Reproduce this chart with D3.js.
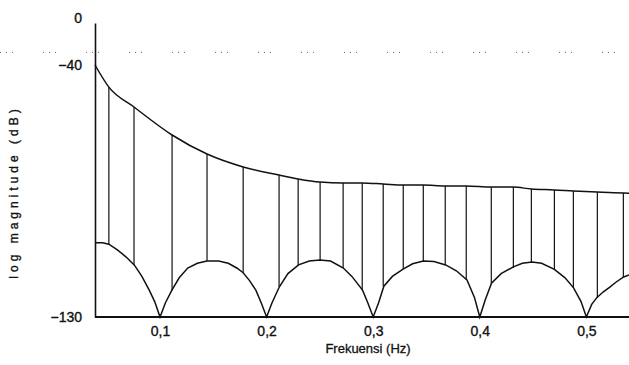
<!DOCTYPE html>
<html>
<head>
<meta charset="utf-8">
<script src="https://cdn.jsdelivr.net/npm/d3@7"></script>
<style>
  body { margin: 0; background: #fff; }
  svg { display: block; font-family: "Liberation Sans", Arial, sans-serif; }
</style>
</head>
<body>
<div class="chart"></div>
<script>
// x ticks (Hz) and their labels, comma as decimal separator
const xTicks = [0.1, 0.2, 0.3, 0.4, 0.5];
const xTickLabels = ['0,1', '0,2', '0,3', '0,4', '0,5'];
const yTicks = [0, -40, -130];
const yTickLabels = ['0', '\u221240', '\u2212130'];

// stem positions (Hz), top on the upper envelope, bottom on the lower curve (dB)
const stemFreq = [0.052, 0.0756, 0.1113, 0.1441, 0.178, 0.2117, 0.2296, 0.2502, 0.2718,
  0.2897, 0.3094, 0.3282, 0.347, 0.3676, 0.3873, 0.4108, 0.4315, 0.4484, 0.47, 0.4878,
  0.5103, 0.5347];
const stemTop = [-47.9, -55, -65, -71.8, -76.4, -79.3, -80.7, -81.8, -82.1,
  -82.1, -82.5, -82.9, -82.9, -83.2, -83.2, -83.6, -83.6, -84.3, -84.6, -85,
  -85.4, -85.7];
const stemBottom = [-104, -111.4, -120.5, -110, -114.2, -119.2, -111.4, -109.6, -112.5,
  -120.4, -119, -112.9, -110, -111.4, -116.8, -117.9, -112.5, -110.4, -113.2, -119.6,
  -123.2, -115.7];

// upper envelope end points
const upperStart = [0.039, -40];
const upperEnd = [0.54, -85.8];

// lower curve
const lowerFreq = [
  0.039, 0.046, 0.052, 0.06, 0.068, 0.076, 0.083, 0.09, 0.095, 0.1,
  0.105, 0.111, 0.118, 0.126, 0.135, 0.144, 0.155, 0.164, 0.172, 0.178, 0.184, 0.19, 0.195, 0.2,
  0.205, 0.212, 0.22, 0.23, 0.24, 0.25, 0.26, 0.272, 0.28, 0.29, 0.295, 0.3,
  0.305, 0.31, 0.318, 0.328, 0.337, 0.347, 0.357, 0.368, 0.378, 0.388, 0.395, 0.4,
  0.405, 0.411, 0.42, 0.432, 0.44, 0.449, 0.458, 0.47, 0.48, 0.488, 0.495, 0.5,
  0.505, 0.51, 0.516, 0.522, 0.528, 0.535, 0.54
];
const lowerDb = [
  -103.5, -103.5, -104, -106, -108.5, -111.5, -115.5, -120.5, -124.5, -130,
  -125, -120.5, -116, -112.5, -110.8, -110, -110, -110.8, -112.5, -114.2, -117, -120.5, -125, -130,
  -125, -119.2, -114.5, -111.4, -110, -109.6, -110, -112.5, -115.5, -120.4, -125, -130,
  -125, -119, -115.5, -112.9, -111, -110, -110.2, -111.4, -113.5, -116.8, -123, -130,
  -124, -117.9, -114.5, -112, -110.8, -110.4, -110.8, -113, -116, -119.6, -124.5, -130,
  -125.5, -123, -121, -119.3, -117.5, -115.7, -115
];

const refLevel = -28; // sparse dotted line near the top

const width = 629, height = 365;
const svg = d3.select('.chart').append('svg')
  .attr('width', width).attr('height', height);

const x = d3.scaleLinear().domain([0.039, 0.54]).range([95, 629]);
// broken axis: 0 dB squeezed into the top
const y = d3.scaleLinear().domain([-130, -40, 0]).range([317, 65, 23]);

// dotted reference line
svg.append('line')
  .attr('x1', 0).attr('x2', width)
  .attr('y1', y(refLevel)).attr('y2', y(refLevel))
  .attr('stroke', '#666').attr('stroke-width', 1)
  .attr('stroke-dasharray', '1 5 1 5 1 30');

// stems
svg.append('g').selectAll('line')
  .data(stemFreq)
  .join('line')
  .attr('x1', d => x(d)).attr('x2', d => x(d))
  .attr('y1', (d, i) => y(stemBottom[i]))
  .attr('y2', (d, i) => y(stemTop[i]))
  .attr('stroke', '#111').attr('stroke-width', 1.2);

// upper envelope
const upperPts = [upperStart].concat(stemFreq.map((f, i) => [f, stemTop[i]]), [upperEnd]);
svg.append('path')
  .datum(upperPts)
  .attr('fill', 'none').attr('stroke', '#111').attr('stroke-width', 1.5)
  .attr('d', d3.line().x(d => x(d[0])).y(d => y(d[1])).curve(d3.curveMonotoneX));

// lower curve
svg.append('path')
  .datum(lowerFreq.map((f, i) => [f, lowerDb[i]]))
  .attr('fill', 'none').attr('stroke', '#111').attr('stroke-width', 1.5)
  .attr('d', d3.line().x(d => x(d[0])).y(d => y(d[1])));

// axes
const xAxis = svg.append('g')
  .attr('transform', 'translate(0,' + y(-130) + ')')
  .call(d3.axisBottom(x).tickValues(xTicks).tickSize(0).tickPadding(9)
    .tickFormat((d, i) => xTickLabels[i]));
xAxis.select('.domain').attr('stroke', '#111').attr('stroke-width', 2).attr('d', 'M95,0H629');

const yAxis = svg.append('g')
  .attr('transform', 'translate(' + x(0.039) + ',0)')
  .call(d3.axisLeft(y).tickValues(yTicks).tickSize(0).tickPadding(13)
    .tickFormat((d, i) => yTickLabels[i]));
yAxis.select('.domain').attr('stroke', '#111').attr('stroke-width', 1.6);
yAxis.selectAll('.tick').filter(d => d === 0).select('text').attr('dy', '-0.05em');

svg.selectAll('.tick text')
  .attr('font-size', 14).attr('fill', '#111')
  .attr('stroke', '#111').attr('stroke-width', 0.35)
  .attr('font-family', '"Liberation Sans", Arial, sans-serif');

// axis titles
svg.append('text')
  .attr('x', 368).attr('y', 353)
  .attr('text-anchor', 'middle')
  .attr('font-size', 13).attr('fill', '#111')
  .attr('stroke', '#111').attr('stroke-width', 0.3)
  .text('Frekuensi (Hz)');

svg.append('text')
  .attr('transform', 'translate(18,192) rotate(-90)')
  .attr('text-anchor', 'middle')
  .attr('font-size', 12).attr('fill', '#111')
  .attr('stroke', '#111').attr('stroke-width', 0.35)
  .attr('letter-spacing', 4)
  .text('log magnitude (dB)');
</script>
</body>
</html>
